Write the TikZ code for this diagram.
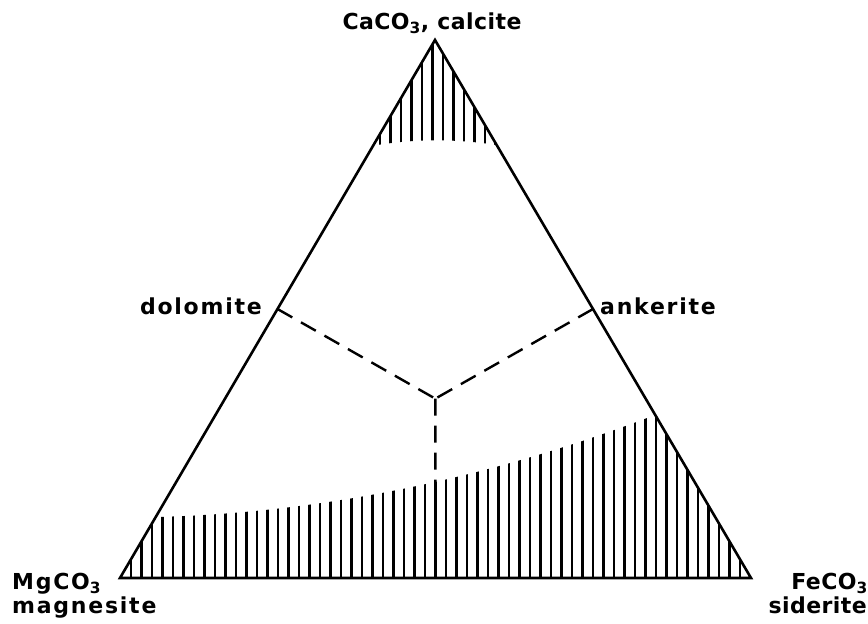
\documentclass[tikz,border=0pt]{standalone}
\usepackage{fontspec}
\newfontfamily\lblfont{DejaVu Sans}[LetterSpace=8]
\newfontfamily\lblfontn{DejaVu Sans}[LetterSpace=2]
\usetikzlibrary{calc}
\begin{document}
\begin{tikzpicture}[x=1pt,y=-1pt,
  edge/.style={line width=2.6pt, line join=miter},
  hatch/.style={line width=2.1pt},
  divide/.style={line width=2.4pt, dash pattern=on 17pt off 10pt},
  lbl/.style={font=\lblfont\fontsize{22}{26}\selectfont\bfseries, inner sep=0pt},
  lbln/.style={font=\lblfontn\fontsize{22}{26}\selectfont\bfseries, inner sep=0pt}]
\useasboundingbox (0,0) rectangle (868,624);
\coordinate (A) at (435,40);
\coordinate (B) at (120,578);
\coordinate (C) at (751,578);
\coordinate (D) at ($(A)!0.5!(B)$);
\coordinate (E) at ($(A)!0.5!(C)$);
\coordinate (F) at ($(B)!0.5!(C)$);
\coordinate (O) at ($1/3*(A)+1/3*(B)+1/3*(C)$);
% bottom hatching
\begin{scope}
  \clip (A) -- (B) -- (C) -- cycle;
  \clip (100,600) -- plot[domain=100:770, samples=70] (\x, {482 - 22.56*((\x-435)/100) - 3.587*((\x-435)/100)^2}) -- (770,600) -- cycle;
  \foreach \i in {0,...,58} \draw[hatch] ({131+10.5*\i},582) -- ({131+10.5*\i},380);
\end{scope}
% top hatching
\begin{scope}
  \clip (A) -- (B) -- (C) -- cycle;
  \clip (350,20) -- (350,151) .. controls (400,137) and (470,137) .. (520,150) -- (520,20) -- cycle;
  \foreach \i in {0,...,11} \draw[hatch] ({380+10.5*\i},30) -- ({380+10.5*\i},170);
\end{scope}
\draw[edge] (A) -- (B) -- (C) -- cycle;
\draw[divide] (D) -- (O);
\draw[divide] (E) -- (O);
\draw[divide] (O) -- (F);
\node[lbln, anchor=base] (calc) at (432,29) {CaCO\textsubscript{3}, calcite};
\node[lbl, anchor=base east] (dol) at (262,314) {dolomite};
\node[lbl, anchor=base west] (ank) at (600,314) {ankerite};
\node[lbl, anchor=base west] (mg) at (12,589) {MgCO\textsubscript{3}};
\node[lbl, anchor=base west] (mgn) at (12,613) {magnesite};
\node[lbln, anchor=base east] (fe) at (868,589) {FeCO\textsubscript{3}};
\node[lbln, anchor=base east] (sid) at (867,613) {siderite};
\end{tikzpicture}
\end{document}
